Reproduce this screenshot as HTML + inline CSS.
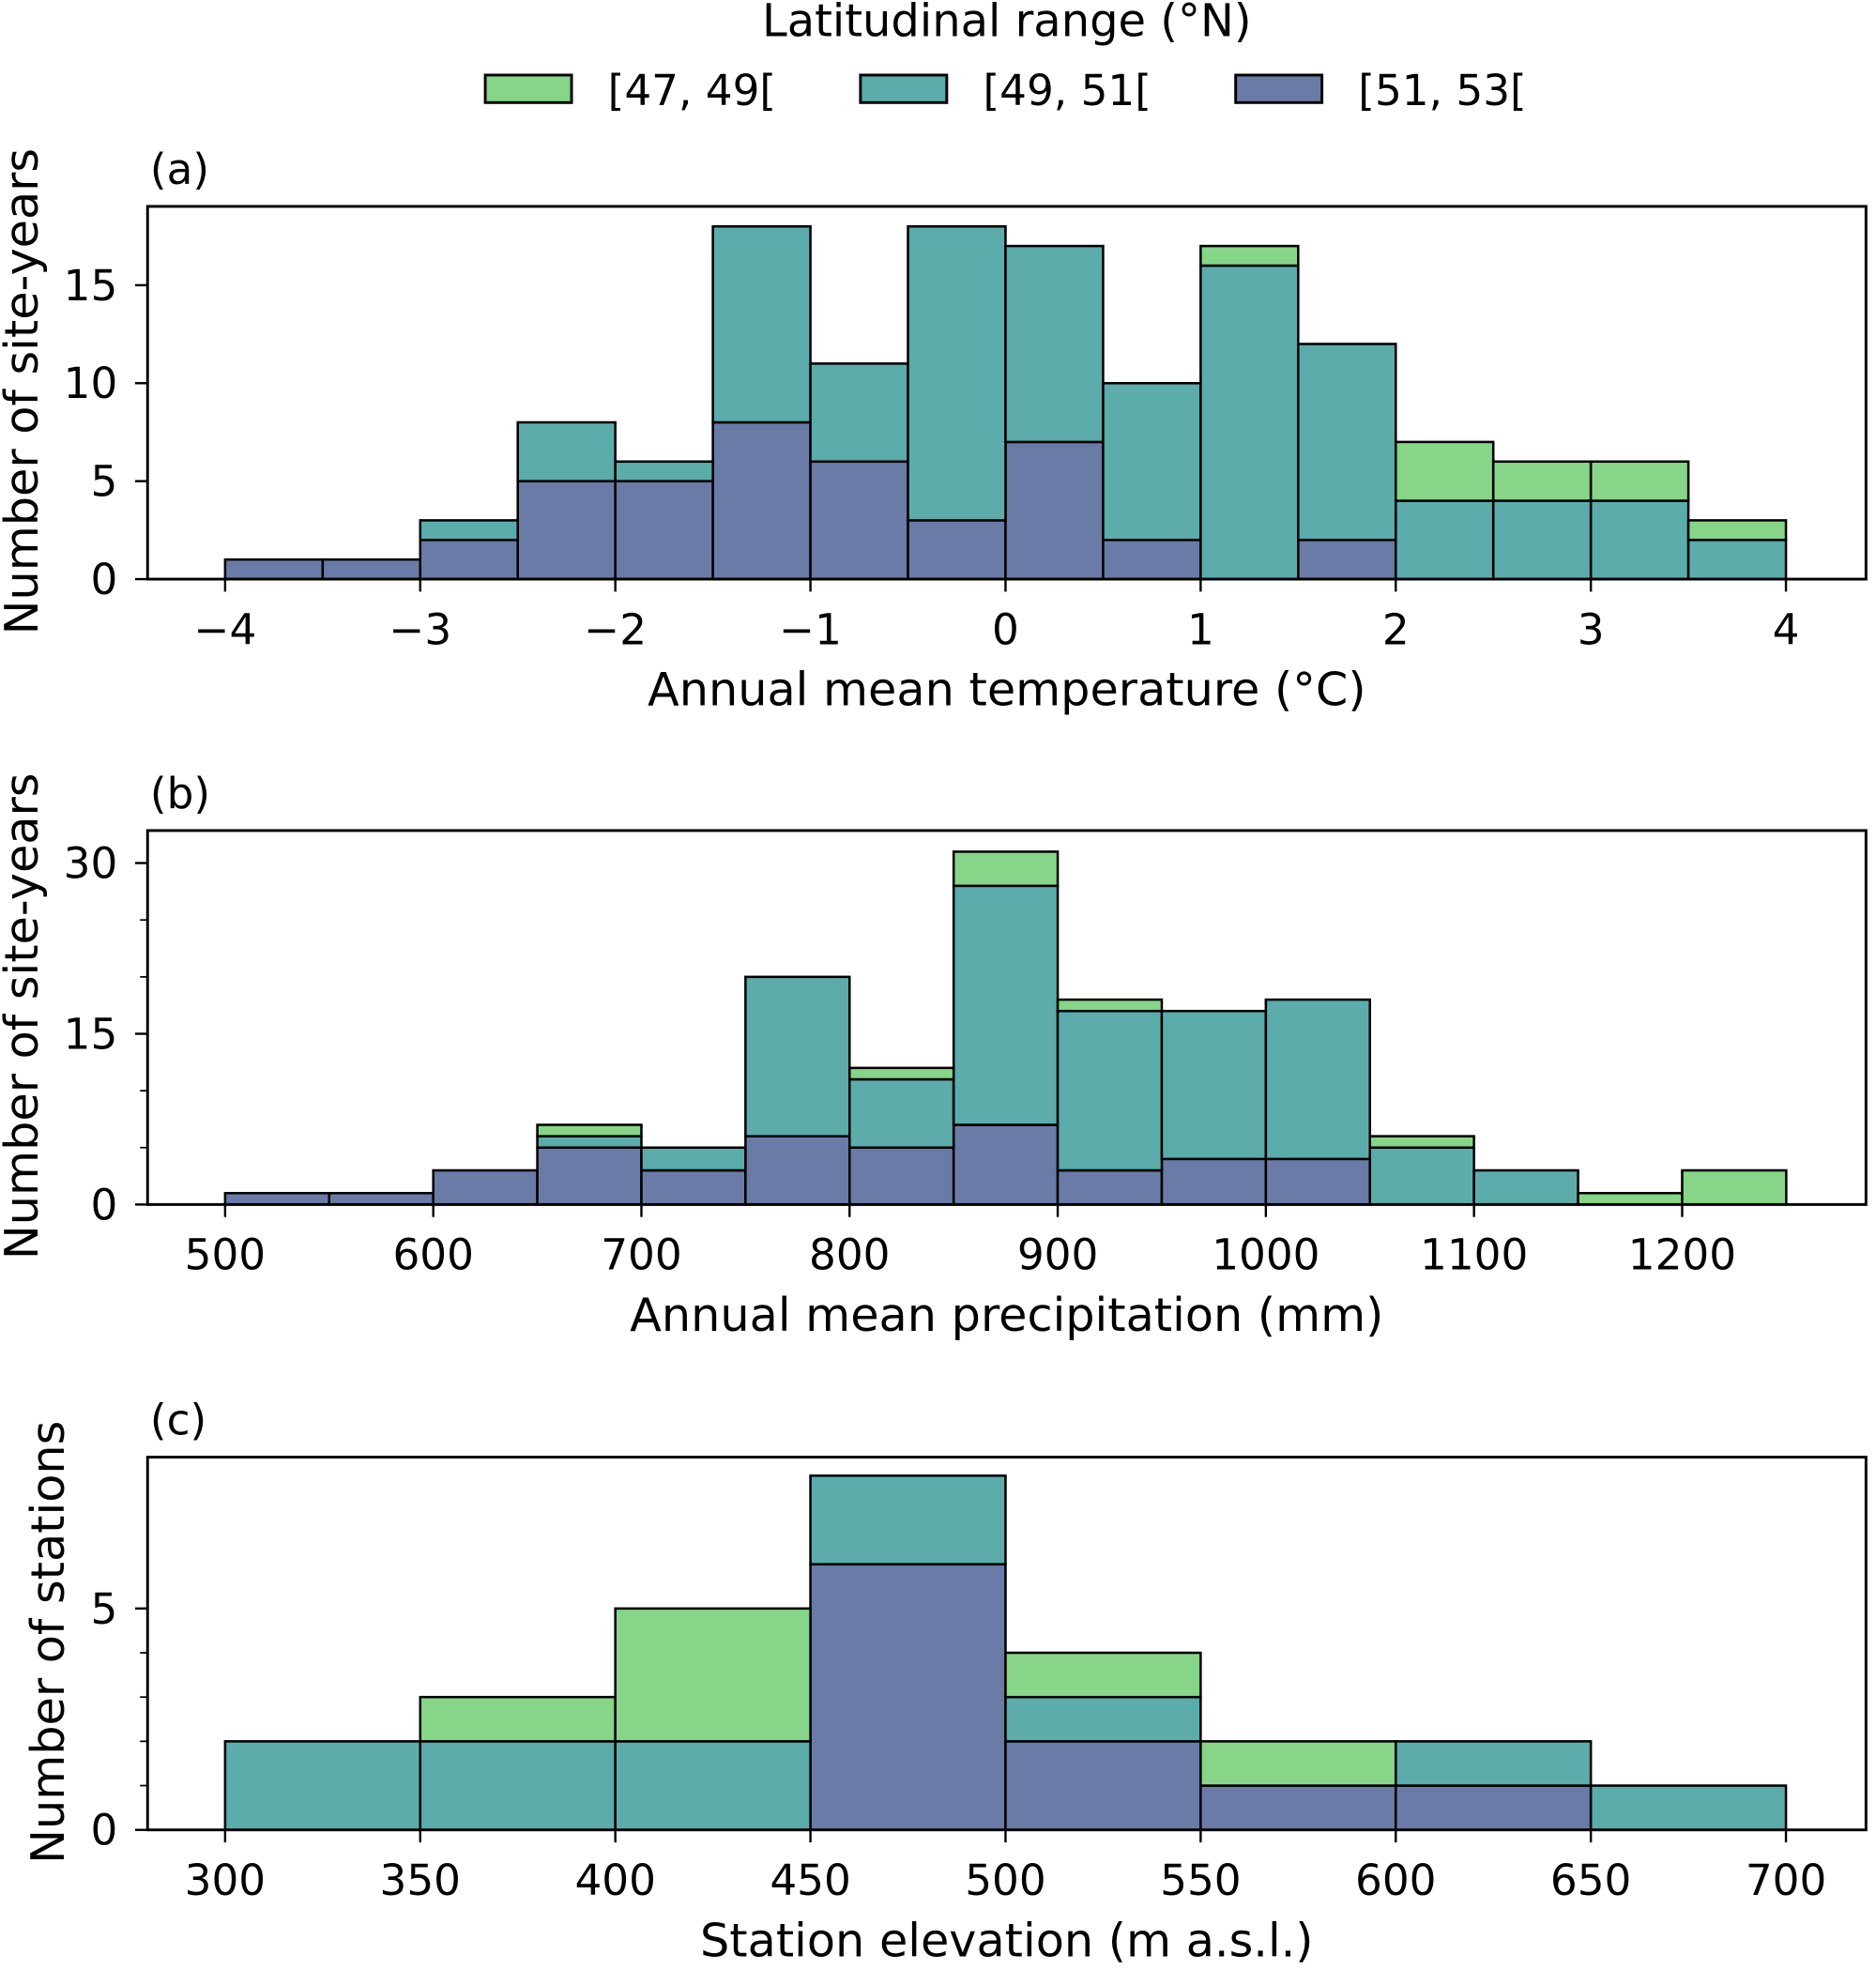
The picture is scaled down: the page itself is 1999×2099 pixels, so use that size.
<!DOCTYPE html>
<html><head><meta charset="utf-8"><style>
html,body{margin:0;padding:0;background:#fff}
svg{display:block;font-family:"DejaVu Sans","Liberation Sans",sans-serif}
</style></head><body>
<svg id="fig" width="1999" height="2099" viewBox="0 0 1500 1575" xmlns="http://www.w3.org/2000/svg">
<text x="805" y="29" font-size="36" text-anchor="middle">Latitudinal range (°N)</text>
<g>
<rect x="388" y="60" width="69" height="22" fill="#86d588" stroke="#000" stroke-width="2.2"/>
<text x="486" y="84" font-size="34">[47, 49[</text>
<rect x="688" y="60" width="69" height="22" fill="#5bacab" stroke="#000" stroke-width="2.2"/>
<text x="786" y="84" font-size="34">[49, 51[</text>
<rect x="988" y="60" width="69" height="22" fill="#6b7ba7" stroke="#000" stroke-width="2.2"/>
<text x="1086" y="84" font-size="34">[51, 53[</text>
</g>
</svg>
<script>
// Panel (a) data
const aEdges0 = -4, aWidth = 0.5;
const aPurple = [1,1,2,5,5,8,6,3,7,2,0,2,0,0,0,0];
const aTeal   = [0,0,1,3,1,10,5,15,10,8,16,10,4,4,4,2];
const aGreen  = [0,0,0,0,0,0,0,0,0,0,1,0,3,2,2,1];
const aXTicks = [-4,-3,-2,-1,0,1,2,3,4];
const aXLabels = ["\u22124","\u22123","\u22122","\u22121","0","1","2","3","4"];
const aYTicks = [0,5,10,15];
// Panel (b) data
const bEdges0 = 500, bWidth = 50;
const bPurple = [1,1,3,5,3,6,5,7,3,4,4,0,0,0,0];
const bTeal   = [0,0,0,1,2,14,6,21,14,13,14,5,3,0,0];
const bGreen  = [0,0,0,1,0,0,1,3,1,0,0,1,0,1,3];
const bXTicks = [500,600,700,800,900,1000,1100,1200];
const bYTicks = [0,15,30];
// Panel (c) data
const cEdges0 = 300, cWidth = 50;
const cPurple = [0,0,0,6,2,1,1,0];
const cTeal   = [2,2,2,2,1,0,1,1];
const cGreen  = [0,1,3,0,1,1,0,0];
const cXTicks = [300,350,400,450,500,550,600,650,700];
const cYTicks = [0,5];

const svg = document.getElementById('fig');
const NS = 'http://www.w3.org/2000/svg';
function el(tag, attrs, parent){const e=document.createElementNS(NS,tag);for(const k in attrs)e.setAttribute(k,attrs[k]);(parent||svg).appendChild(e);return e;}

function panel(o){
  const g = el('g',{});
  
  
  const X = v => o.px0 + (v - o.x0) * (o.px1 - o.px0) / (o.x1 - o.x0);
  const Y = v => o.py0 - v * (o.py0 - o.py1) / o.y1;
  const colors = ['#6b7ba7','#5bacab','#86d588'];
  const series = [o.purple, o.teal, o.green];
  const names = ['51-53','49-51','47-49'];
  const n = o.purple.length;
  const cum = new Array(n).fill(0);
  series.forEach((s, si) => {
    for (let i = 0; i < n; i++) {
      const lo = o.e0 + i * o.w, hi = lo + o.w;
      const b = cum[i], t = cum[i] + s[i];
      const r = el('rect',{x:X(lo),y:Y(t),width:X(hi)-X(lo),height:Math.max(0,Y(b)-Y(t)),fill:colors[si],stroke:'#000','stroke-width':1.9},g);
      
      
      cum[i] = t;
    }
  });
  const box = el('rect',{x:o.bx0,y:o.by0,width:o.bx1-o.bx0,height:o.py0-o.by0,fill:'none',stroke:'#000','stroke-width':2.2},g);
  
  
  o.xt.forEach((v, i) => {
    el('line',{x1:X(v),x2:X(v),y1:o.py0,y2:o.py0+10,stroke:'#000','stroke-width':1.8},g);
    const t = el('text',{x:X(v),y:o.py0+52,'font-size':34,'text-anchor':'middle'},g);
    t.textContent = o.xl ? o.xl[i] : String(v);
    
    
  });
  o.yt.forEach(v => {
    el('line',{x1:o.bx0,x2:o.bx0-10,y1:Y(v),y2:Y(v),stroke:'#000','stroke-width':1.8},g);
    const t = el('text',{x:o.bx0-24,y:Y(v)+12,'font-size':34,'text-anchor':'end'},g);
    t.textContent = String(v);
    
    
  });
  if (o.minor) for (let v = 0; v <= o.y1; v += o.minor) {
    if (o.yt.includes(v)) continue;
    el('line',{x1:o.bx0,x2:o.bx0-6,y1:Y(v),y2:Y(v),stroke:'#000','stroke-width':1.3},g);
  }
  const xl = el('text',{x:805,y:o.py0+101,'font-size':37,'text-anchor':'middle'},g);
  xl.textContent = o.xlabel;
  
  
  const yl = el('text',{x:0,y:0,'font-size':37,'text-anchor':'middle',transform:`translate(${o.ylx},${(o.by0+o.py0)/2-1}) rotate(-90)`},g);
  yl.textContent = o.ylabel;
  
  
  const pl = el('text',{x:120,y:o.by0-18,'font-size':34},g);
  pl.textContent = o.tag;
  
  
}

panel({name:'panel-a',tag:'(a)',e0:aEdges0,w:aWidth,purple:aPurple,teal:aTeal,green:aGreen,
  x0:-4,x1:4,px0:180,px1:1428,y1:15,py0:463,py1:228,bx0:118,bx1:1492,by0:165,
  xt:aXTicks,xl:aXLabels,yt:aYTicks,xlabel:'Annual mean temperature (°C)',ylabel:'Number of site-years',ylx:30});
panel({name:'panel-b',tag:'(b)',e0:bEdges0,w:bWidth,purple:bPurple,teal:bTeal,green:bGreen,
  x0:500,x1:1200,px0:180,px1:1345,y1:30,py0:963,py1:690,bx0:118,bx1:1492,by0:664,minor:5,
  xt:bXTicks,yt:bYTicks,xlabel:'Annual mean precipitation (mm)',ylabel:'Number of site-years',ylx:30});
panel({name:'panel-c',tag:'(c)',e0:cEdges0,w:cWidth,purple:cPurple,teal:cTeal,green:cGreen,
  x0:300,x1:700,px0:180,px1:1428,y1:5,py0:1463,py1:1286,bx0:118,bx1:1492,by0:1165,minor:1,
  xt:cXTicks,yt:cYTicks,xlabel:'Station elevation (m a.s.l.)',ylabel:'Number of stations',ylx:51});
</script>
</body></html>
